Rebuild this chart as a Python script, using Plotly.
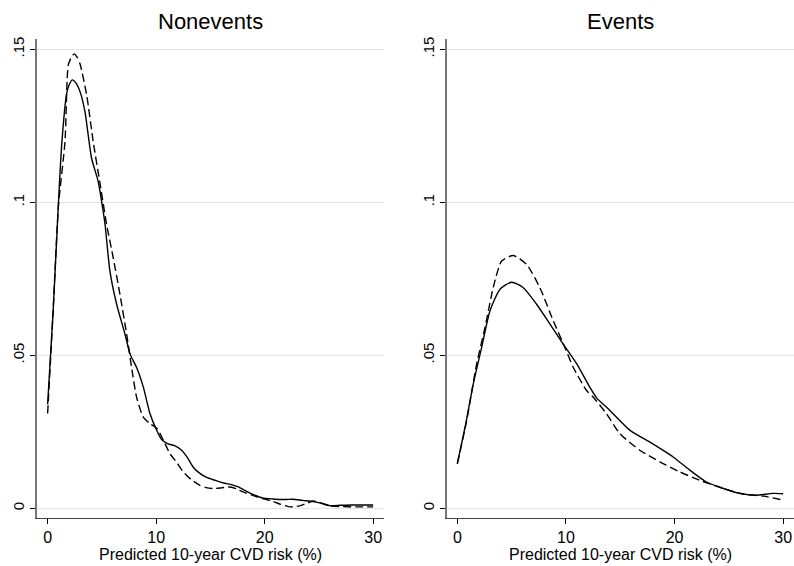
import plotly.graph_objects as go

# ---------------- data ----------------
panel_titles = ["Nonevents", "Events"]
x_label = "Predicted 10-year CVD risk (%)"
x_ticks = [0, 10, 20, 30]
y_ticks = [0, 0.05, 0.1, 0.15]
y_tick_text = ["0", ".05", ".1", ".15"]

# Nonevents – solid curve
ne_solid_x = [0, 0.5, 1.0, 1.3, 1.75, 2.0, 2.27, 2.6, 3.0, 3.44, 4.05, 4.66, 5.12, 5.3, 5.74,
              6.36, 7.13, 7.6, 8.2, 8.82, 9.43, 10.05, 10.5, 11.1, 11.7, 12.35, 12.9, 13.4,
              14.0, 14.65, 15.4, 16.2, 17.0, 17.57, 18.6, 19.87, 20.6, 21.4, 22.0, 22.6,
              23.5, 24.5, 25.2, 26.0, 27.0, 27.9, 29.0, 30.0]
ne_solid_y = [0.034, 0.064, 0.100, 0.119, 0.1355, 0.1385, 0.140, 0.139, 0.136, 0.1296, 0.1144,
              0.1068, 0.097, 0.0925, 0.0775, 0.0667, 0.0569, 0.0504, 0.046, 0.0396, 0.031,
              0.0255, 0.0225, 0.0211, 0.0205, 0.019, 0.0165, 0.0135, 0.0115, 0.0101, 0.0092,
              0.0083, 0.0077, 0.007, 0.0051, 0.0033, 0.0031, 0.0029, 0.0029, 0.003, 0.0026,
              0.0022, 0.0017, 0.0009, 0.001, 0.0011, 0.0011, 0.0011]

# Nonevents – dashed curve
ne_dash_x = [0, 0.5, 1.0, 1.6, 1.9, 2.2, 2.45, 2.7, 2.98, 3.6, 4.2, 4.8, 5.44, 6.05, 6.66,
             7.28, 7.74, 8.2, 8.82, 9.43, 10.1, 10.7, 11.27, 11.9, 12.5, 13.2, 14.0, 14.6,
             15.26, 16.0, 16.8, 17.4, 18.0, 19.26, 20.0, 20.8, 21.5, 22.3, 23.2, 24.0, 24.5,
             25.3, 26.0, 27.2, 28.5, 30.0]
ne_dash_y = [0.031, 0.064, 0.099, 0.1198, 0.1448, 0.1475, 0.1485, 0.1475, 0.1453, 0.135,
             0.1198, 0.1068, 0.0927, 0.0818, 0.070, 0.0569, 0.046, 0.0363, 0.0298, 0.0277,
             0.026, 0.022, 0.0179, 0.015, 0.0119, 0.0095, 0.0076, 0.0068, 0.0065, 0.0067,
             0.007, 0.0064, 0.0054, 0.0038, 0.003, 0.0022, 0.0013, 0.0005, 0.0008, 0.0018,
             0.0024, 0.0016, 0.0008, 0.0006, 0.0005, 0.0005]

# Events – solid curve
ev_solid_x = [0, 0.71, 1.47, 2.24, 3.0, 3.93, 5.0, 6.07, 7.3, 8.53, 9.75, 11.0, 12.2, 12.8,
              14.05, 15.9, 17.7, 19.87, 21.4, 22.9, 24.5, 26.0, 27.5, 29.07, 30.0]
ev_solid_y = [0.0146, 0.0265, 0.0407, 0.0526, 0.0645, 0.0716, 0.0739, 0.0721, 0.0667, 0.0602,
              0.0537, 0.0472, 0.0396, 0.0362, 0.032, 0.0255, 0.0217, 0.0168, 0.0125, 0.0087,
              0.0065, 0.0049, 0.0043, 0.0049, 0.0048]

# Events – dashed curve
ev_dash_x = [0, 0.86, 1.78, 2.55, 3.3, 4.08, 5.15, 6.38, 7.6, 8.83, 9.9, 10.67, 11.9, 12.5,
             13.74, 14.97, 16.8, 18.65, 20.5, 22.3, 24.5, 26.3, 28.2, 30.0]
ev_dash_y = [0.0146, 0.0287, 0.0472, 0.0591, 0.0721, 0.0808, 0.0826, 0.0797, 0.0721, 0.0613,
             0.0526, 0.0461, 0.0385, 0.0364, 0.0309, 0.0244, 0.019, 0.0152, 0.0119, 0.0092,
             0.0065, 0.0047, 0.004, 0.0027]

# ---------------- figure ----------------
W, H = 794, 566
fig = go.Figure()

def add_curve(x, y, axis, dash):
    fig.add_trace(go.Scatter(
        x=x, y=y, mode="lines", xaxis="x" + axis, yaxis="y" + axis,
        line=dict(color="black", width=1.4, dash=dash, shape="spline", smoothing=0.6),
        showlegend=False, hoverinfo="skip"))

add_curve(ne_solid_x, ne_solid_y, "", "solid")
add_curve(ne_dash_x, ne_dash_y, "", "8px,4px")
add_curve(ev_solid_x, ev_solid_y, "2", "solid")
add_curve(ev_dash_x, ev_dash_y, "2", "8px,4px")

font_family = "Liberation Sans, Arial, sans-serif"
y_dom = [48 / H, (H - 37) / H]
x_dom1 = [37 / W, 384 / W]
x_dom2 = [446.7 / W, 1.0]

xaxis_common = dict(
    range=[-0.98, 31.0], tickvals=x_ticks, ticks="outside", ticklen=5,
    tickcolor="black", tickwidth=1, showline=True, linecolor="#444", linewidth=1,
    showgrid=False, zeroline=False, tickfont=dict(size=16, color="black", family=font_family),
    ticklabelstandoff=0,
)
yaxis_common = dict(
    range=[-0.0032, 0.1534], tickvals=y_ticks, ticktext=y_tick_text, tickangle=-90,
    ticks="outside", ticklen=5, tickcolor="black", tickwidth=1,
    showline=True, linecolor="#777", linewidth=1.5,
    showgrid=True, gridcolor="#e4e4e4", gridwidth=1, zeroline=False,
    tickfont=dict(size=15, color="black", family=font_family),
)

fig.update_layout(
    width=W, height=H,
    margin=dict(l=0, r=0, t=0, b=0),
    paper_bgcolor="white", plot_bgcolor="white",
    xaxis=dict(domain=x_dom1, anchor="y", **xaxis_common),
    yaxis=dict(domain=y_dom, anchor="x", **yaxis_common),
    xaxis2=dict(domain=x_dom2, anchor="y2", **xaxis_common),
    yaxis2=dict(domain=y_dom, anchor="x2", **yaxis_common),
    font=dict(family=font_family, color="black"),
)

annotations = []
for dom, title in [(x_dom1, panel_titles[0]), (x_dom2, panel_titles[1])]:
    cx = (dom[0] + dom[1]) / 2
    annotations.append(dict(text=title, x=cx, y=1 - 20 / H, xref="paper", yref="paper",
                            xanchor="center", yanchor="middle", showarrow=False,
                            font=dict(size=22, color="black", family=font_family)))
    annotations.append(dict(text=x_label, x=cx, y=1 - 554 / H, xref="paper", yref="paper",
                            xanchor="center", yanchor="middle", showarrow=False,
                            font=dict(size=16, color="black", family=font_family)))
fig.update_layout(annotations=annotations)

fig.write_html(
    "out.html",
    config={"displayModeBar": False},
    post_script="document.body.style.margin='0px';document.body.style.overflow='hidden';",
)
